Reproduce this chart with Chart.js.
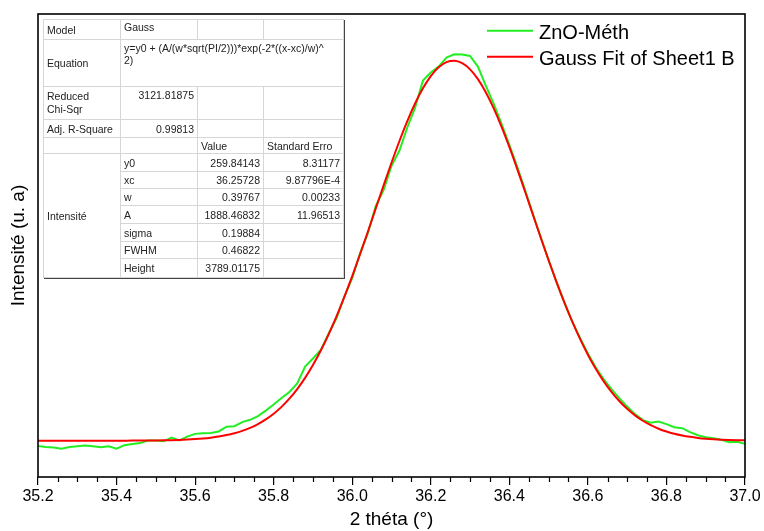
<!DOCTYPE html>
<html>
<head>
<meta charset="utf-8">
<script src="https://cdn.jsdelivr.net/npm/chart.js@4.4.0/dist/chart.umd.min.js"></script>
<style>
html,body{margin:0;padding:0;background:#fff;}
#wrap{position:relative;width:764px;height:531px;overflow:hidden;}
#c{position:absolute;left:0;top:0;}
#fit{position:absolute;left:43px;top:19px;border-collapse:collapse;table-layout:fixed;
  font-family:"Liberation Sans",Arial,sans-serif;font-size:10.5px;color:#222;background:#fff;
  border:1px solid #777;box-shadow:1px 1px 0 #444;}
#fit td{border:1px solid #d6d6d6;padding:0 3px;overflow:hidden;white-space:nowrap;vertical-align:middle;line-height:12px;}
#fit td.t{vertical-align:top;padding-top:2px;}
#fit td.r{text-align:right;}
</style>
</head>
<body>
<div id="wrap">
<canvas id="c" width="764" height="531"></canvas>
<table id="fit">
<colgroup><col style="width:77px"><col style="width:77px"><col style="width:66px"><col style="width:80px"></colgroup>
<tbody id="fitBody"></tbody>
</table>
</div>
<script>
// ---------- data ----------
const thetaDeg = [35.20,35.22,35.24,35.26,35.28,35.30,35.32,35.34,35.36,35.38,
  35.40,35.42,35.44,35.46,35.48,35.50,35.52,35.54,35.56,35.58,
  35.60,35.62,35.64,35.66,35.68,35.70,35.72,35.74,35.76,35.78,
  35.80,35.82,35.84,35.86,35.88,35.90,35.92,35.94,35.96,35.98,
  36.00,36.02,36.04,36.06,36.08,36.10,36.12,36.14,36.16,36.18,
  36.20,36.22,36.24,36.26,36.28,36.30,36.32,36.34,36.36,36.38,
  36.40,36.42,36.44,36.46,36.48,36.50,36.52,36.54,36.56,36.58,
  36.60,36.62,36.64,36.66,36.68,36.70,36.72,36.74,36.76,36.78,
  36.80,36.82,36.84,36.86,36.88,36.90,36.92,36.94,36.96,36.98,37.00];

const intensityZnO = [207,198,192,180,196,205,212,205,195,205,
  180,215,228,236,262,262,254,290,262,300,
  328,335,337,352,400,405,445,468,505,560,
  620,685,745,830,1000,1080,1165,1330,1480,1700,
  1880,2130,2330,2600,2760,3000,3150,3380,3580,3850,
  3930,3990,4080,4112,4110,4095,3990,3800,3620,3420,
  3210,2990,2760,2520,2290,2060,1840,1640,1450,1285,
  1130,990,875,775,685,600,525,465,440,450,
  425,395,385,345,315,295,284,270,245,250,228];

const gaussFit = [259.8,259.8,259.8,259.8,259.8,259.9,259.9,259.9,260.0,260.1,
  260.2,260.4,260.7,261.1,261.7,262.5,263.8,265.5,267.9,271.3,
  275.9,282.1,290.4,301.4,315.8,334.4,358.2,388.3,425.9,472.4,
  529.0,597.3,678.8,774.7,886.1,1014.0,1158.7,1320.6,1499.0,1692.9,
  1900.3,2118.9,2345.4,2576.0,2806.1,3031.0,3245.4,3443.9,3621.4,3773.2,
  3894.9,3982.8,4034.6,4048.5,4024.1,3962.4,3865.0,3734.7,3575.5,3391.7,
  3188.4,2970.6,2743.9,2513.2,2283.3,2058.5,1842.6,1638.6,1448.9,1274.9,
  1117.6,977.3,854.1,747.1,655.3,577.5,512.5,458.8,414.9,379.4,
  351.2,328.9,311.6,298.2,287.9,280.2,274.5,270.3,267.2,265.0,263.4];

const xTickValues = [35.2,35.4,35.6,35.8,36.0,36.2,36.4,36.6,36.8,37.0];
const seriesLabels = ['ZnO-Méth','Gauss Fit of Sheet1 B'];
const seriesColors = ['#22ee22','#ff0000'];
const axisTitles = {x:'2 théta (°)', y:'Intensité (u. a)'};

// fit report table
const fitModel = 'Gauss';
const fitEquation = ['y=y0 + (A/(w*sqrt(PI/2)))*exp(-2*((x-xc)/w)^','2)'];
const fitChiSqr = '3121.81875';
const fitAdjR2 = '0.99813';
const fitGroup = 'Intensité';
const paramNames = ['y0','xc','w','A','sigma','FWHM','Height'];
const paramValues = ['259.84143','36.25728','0.39767','1888.46832','0.19884','0.46822','3789.01175'];
const paramErrors = ['8.31177','9.87796E-4','0.00233','11.96513','','',''];

// ---------- table ----------
(function buildTable(){
  const tb = document.getElementById('fitBody');
  const esc = s => s.replace(/&/g,'&amp;').replace(/</g,'&lt;');
  let h = '';
  h += '<tr style="height:20px"><td>Model</td><td class="t" style="padding-top:1px">'+esc(fitModel)+'</td><td></td><td></td></tr>';
  h += '<tr style="height:47px"><td>Equation</td><td colspan="3" class="t">'+fitEquation.map(esc).join('<br>')+'</td></tr>';
  h += '<tr style="height:33px"><td style="line-height:13px">Reduced<br>Chi-Sqr</td><td class="t r">'+esc(fitChiSqr)+'</td><td></td><td></td></tr>';
  h += '<tr style="height:18px"><td>Adj. R-Square</td><td class="r">'+esc(fitAdjR2)+'</td><td></td><td></td></tr>';
  h += '<tr style="height:16px"><td></td><td></td><td>Value</td><td>Standard Erro</td></tr>';
  const hs = [18,17,17,18,18,17,19];
  paramNames.forEach((n,i)=>{
    h += '<tr style="height:'+hs[i]+'px">';
    if(i===0) h += '<td rowspan="'+paramNames.length+'">'+esc(fitGroup)+'</td>';
    h += '<td>'+esc(n)+'</td><td class="r">'+esc(paramValues[i])+'</td><td class="r">'+esc(paramErrors[i])+'</td></tr>';
  });
  tb.innerHTML = h;
})();

// ---------- chart ----------
const FONT = '"Liberation Sans", Arial, sans-serif';

const framePlugin = {
  id: 'frameLegend',
  afterDraw(chart){
    const {ctx, chartArea:{left,top,right,bottom}, scales:{x}} = chart;
    ctx.save();
    // minor ticks every 0.05
    ctx.strokeStyle = '#000';
    ctx.lineWidth = 1.2;
    for(let i=1;i<36;i++){
      if(i%4===0) continue;
      const px = Math.round(x.getPixelForValue(35.2 + i*0.05)) + 0.5;
      ctx.beginPath(); ctx.moveTo(px,bottom); ctx.lineTo(px,bottom+5); ctx.stroke();
    }
    // frame
    ctx.lineWidth = 1.6;
    ctx.strokeRect(left, top, right-left, bottom-top);
    // legend
    const ys = [30.7, 56.7];
    ctx.font = '20px ' + FONT;
    ctx.textBaseline = 'alphabetic';
    ctx.textAlign = 'left';
    chart.data.datasets.slice().sort((a,b)=>a.legendIndex-b.legendIndex).forEach((ds,i)=>{
      ctx.strokeStyle = ds.borderColor;
      ctx.lineWidth = 2;
      ctx.beginPath(); ctx.moveTo(487, ys[i]); ctx.lineTo(533, ys[i]); ctx.stroke();
      ctx.fillStyle = '#000';
      ctx.fillText(ds.label, 539, ys[i] + 8.5);
    });
    ctx.restore();
  }
};

new Chart(document.getElementById('c'), {
  type: 'line',
  data: {
    datasets: [
      { label: seriesLabels[0], legendIndex:0, order: 1,
        data: thetaDeg.map((t,i)=>({x:t, y:intensityZnO[i]})),
        borderColor: seriesColors[0], borderWidth: 2, pointRadius: 0, tension: 0, fill:false },
      { label: seriesLabels[1], legendIndex:1, order: 0,
        data: thetaDeg.map((t,i)=>({x:t, y:gaussFit[i]})),
        borderColor: seriesColors[1], borderWidth: 2, pointRadius: 0, cubicInterpolationMode:'monotone', fill:false }
    ]
  },
  options: {
    responsive: false,
    devicePixelRatio: 1,
    animation: false,
    events: [],
    layout: { padding: { top: 14, right: 19, left: 0, bottom: 0 } },
    plugins: { legend: { display: false }, tooltip: { enabled: false } },
    scales: {
      x: {
        type: 'linear', min: 35.2, max: 37.0,
        afterBuildTicks: s => { s.ticks = xTickValues.map(v=>({value:v})); },
        afterFit: s => { s.height = 54; },
        ticks: { callback: v => Number(v).toFixed(1), color:'#000', font:{family:FONT, size:16}, padding:2, maxRotation:0, autoSkip:false },
        grid: { display:true, drawOnChartArea:false, drawTicks:true, tickLength:8, color:'#000', lineWidth:1.2 },
        border: { display:false },
        title: { display:true, text: axisTitles.x, color:'#000', font:{family:FONT, size:19}, padding:{top:0,bottom:0} }
      },
      y: {
        type: 'linear', min: -102, max: 4514,
        afterFit: s => { s.width = 38; },
        ticks: { display:false },
        grid: { display:false },
        border: { display:false },
        title: { display:true, text: axisTitles.y, color:'#000', font:{family:FONT, size:19}, padding:{top:7,bottom:0} }
      }
    }
  },
  plugins: [framePlugin]
});
</script>
</body>
</html>
